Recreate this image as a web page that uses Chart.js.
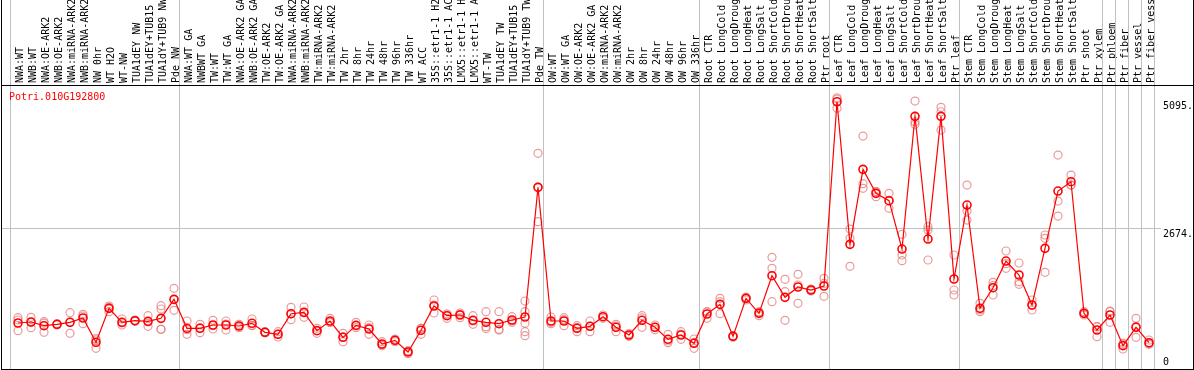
<!DOCTYPE html>
<html>
<head>
<meta charset="utf-8">
<script src="https://cdn.jsdelivr.net/npm/chart.js@4.4.1/dist/chart.umd.min.js"></script>
<style>
html, body { margin: 0; padding: 0; background: #fff; }
#box { width: 1194px; height: 370px; }
</style>
</head>
<body>
<div id="box"><canvas id="c" width="1194" height="370"></canvas></div>
<script>
//基因名
const geneName = 'Potri.010G192800'

//样本名（顶部竖排）
const sampleLabels = [
    'NWA:WT', 'NWB:WT', 'NWA:OE-ARK2', 'NWB:OE-ARK2', 'NWA:miRNA-ARK2', 'NWB:miRNA-ARK2',
    'NW 0hr', 'WT H2O', 'WT-NW', 'TUA1dEY NW', 'TUA1dEY+TUB15 NW', 'TUA1dY+TUB9 NW', 'Pde NW',
    'NWA:WT GA', 'NWBWT GA', 'TW:WT', 'TW:WT GA', 'NWA:OE-ARK2 GA', 'NWB:OE-ARK2 GA',
    'TW:OE-ARK2', 'TW:OE-ARK2 GA', 'NWA:miRNA-ARK2 GA', 'NWB:miRNA-ARK2 GA', 'TW:miRNA-ARK2',
    'TW:miRNA-ARK2 GA', 'TW 2hr', 'TW 8hr', 'TW 24hr', 'TW 48hr', 'TW 96hr', 'TW 336hr',
    'WT ACC', '35S::etr1-1 H2O', '35S::etr1-1 ACC', 'LMX5::etr1-1 H2O', 'LMX5::etr1-1 ACC',
    'WT-TW', 'TUA1dEY TW', 'TUA1dEY+TUB15 TW', 'TUA1dY+TUB9 TW', 'Pde TW',
    'OW:WT', 'OW:WT GA', 'OW:OE-ARK2', 'OW:OE-ARK2 GA', 'OW:miRNA-ARK2', 'OW:miRNA-ARK2 GA',
    'OW 2hr', 'OW 8hr', 'OW 24hr', 'OW 48hr', 'OW 96hr', 'OW 336hr',
    'Root CTR', 'Root LongCold', 'Root LongDrought', 'Root LongHeat', 'Root LongSalt',
    'Root ShortCold', 'Root ShortDrought', 'Root ShortHeat', 'Root ShortSalt', 'Ptr root',
    'Leaf CTR', 'Leaf LongCold', 'Leaf LongDrought', 'Leaf LongHeat', 'Leaf LongSalt',
    'Leaf ShortCold', 'Leaf ShortDrought', 'Leaf ShortHeat', 'Leaf ShortSalt', 'Ptr leaf',
    'Stem CTR', 'Stem LongCold', 'Stem LongDrought', 'Stem LongHeat', 'Stem LongSalt',
    'Stem ShortCold', 'Stem ShortDrought', 'Stem ShortHeat', 'Stem ShortSalt', 'Ptr shoot',
    'Ptr xylem', 'Ptr phloem', 'Ptr fiber', 'Ptr vessel', 'Ptr fiber vessel'
]

//平均值（红线）
const means = [
    874, 893, 823, 849, 887, 969, 507, 1153, 887, 918, 906, 963, 1324,
    773, 773, 836, 836, 817, 868, 697, 659, 1051, 1077, 728, 912, 602, 830, 760, 475, 545, 323,
    735, 1197, 1013, 1026, 925, 887, 861, 931, 988, 3452,
    912, 912, 773, 811, 994, 792, 646, 925, 792, 564, 646, 488,
    1045, 1229, 621, 1343, 1058, 1773, 1362, 1558, 1501, 1577,
    5079, 2369, 3794, 3338, 3198, 2280, 4801, 2470, 4801, 1710,
    3116, 1153, 1545, 2052, 1786, 1216, 2293, 3382, 3559, 1058,
    741, 1026, 443, 792, 500
]

//重复样本（浅红圈）
const reps = [
    [975, 931, 728], [982, 887, 785], [899, 873, 697], [860, 849, 838], [1070, 887, 678],
    [1039, 1007, 861], [551, 576, 393], [1197, 1172, 1089], [950, 874, 836], [930, 918, 906],
    [1013, 894, 811], [1203, 1140, 754, 755], [1533, 1324, 1115],
    [912, 748, 659], [849, 780, 690], [925, 823, 760], [912, 855, 741], [849, 817, 785],
    [950, 830, 824], [709, 697, 685], [709, 659, 608], [1172, 1045, 937], [1178, 1071, 982],
    [773, 733, 678], [963, 887, 886], [678, 609, 519], [887, 818, 785], [836, 785, 659],
    [519, 463, 443], [570, 545, 520], [349, 329, 291], [773, 773, 659], [1311, 1216, 1064],
    [1050, 1026, 963], [1064, 1039, 975], [1013, 913, 849], [1089, 804, 768], [1089, 754, 740],
    [994, 912, 887], [1292, 1089, 868, 709, 633], [4098, 3459, 2799],
    [988, 887, 861], [975, 937, 823], [823, 787, 709], [912, 811, 709], [1026, 994, 963],
    [849, 817, 709], [671, 646, 621], [1013, 970, 792], [836, 792, 747], [659, 532, 500],
    [709, 665, 564], [570, 500, 393],
    [1089, 1083, 963], [1343, 1279, 1051], [633, 628, 602], [1368, 1350, 1311], [1089, 1072, 1013],
    [2122, 1913, 1279], [1704, 1469, 925], [1799, 1596, 1248], [1520, 1501, 1482], [1723, 1627, 1381],
    [5155, 5130, 4953], [2660, 2483, 1951], [4427, 3521, 3433], [3369, 3274, 3371], [3338, 3203, 3053],
    [2559, 2166, 2058], [5092, 4699, 4650], [2704, 2641, 2071], [4972, 4889, 4541], [2166, 1501, 1406],
    [3496, 3002, 2831], [1248, 1121, 1089], [1647, 1583, 1406], [2242, 2001, 1913], [2014, 1659, 1609],
    [1311, 1216, 1121], [2546, 2483, 1837], [4066, 3192, 2907], [3686, 3496, 3495], [1089, 1058, 1026],
    [804, 804, 614], [1102, 1089, 887], [488, 462, 380], [963, 811, 602], [551, 481, 469]
]

//分组分隔线（在这些样本之后）
const groupEnds = [-1, 12, 40, 52, 62, 72, 83, 84, 85, 86, 87]
//右侧刻度
const yTicks = [5095, 2674, 0]
const yMax = 5397

const monoFont = '10px "DejaVu Sans Mono", monospace'

//背景：分隔线、中线
const backLines = {
    id: 'backLines',
    beforeDatasetsDraw(chart) {
        const ctx = chart.ctx
        const x = chart.scales.x
        const y = chart.scales.y
        ctx.save()
        ctx.fillStyle = '#c0c0c0'
        for (let g of groupEnds) {
            const px = Math.round(x.getPixelForValue(g + 0.5)) - 2
            ctx.fillRect(px, 0, 1, 369)
        }
        const my = Math.round(y.getPixelForValue(yTicks[1]))
        ctx.fillRect(1, my, 1160, 1)
        ctx.restore()
    }
}

//边框和文字
const frameText = {
    id: 'frameText',
    afterDraw(chart) {
        const ctx = chart.ctx
        const y = chart.scales.y
        ctx.save()
        ctx.fillStyle = '#000'
        ctx.fillRect(1, 0, 1, 370)
        ctx.fillRect(1193, 0, 1, 370)
        ctx.fillRect(1, 85, 1193, 1)
        ctx.fillRect(1, 369, 1193, 1)

        //右侧数值
        ctx.font = monoFont
        for (let t of yTicks) {
            const py = y.getPixelForValue(t)
            if (t === 0) {
                ctx.textBaseline = 'bottom'
                ctx.fillText('0', 1163, 367)
            } else {
                ctx.textBaseline = 'top'
                ctx.fillText(t + '.', 1163, py + 1)
            }
        }
        ctx.fillStyle = '#ff0000'
        ctx.textBaseline = 'top'
        ctx.fillText(geneName, 9, 92)
        ctx.restore()
    }
}

const meanPts = means.map((v, i) => ({ x: i, y: v }))
const repPts = []
reps.forEach((r, i) => r.forEach(v => repPts.push({ x: i, y: v })))

new Chart(document.getElementById('c'), {
    type: 'scatter',
    data: {
        datasets: [
            {
                data: meanPts,
                showLine: true,
                borderColor: '#ff0000',
                borderWidth: 1.2,
                pointRadius: 4,
                pointBorderWidth: 1.6,
                pointBorderColor: '#ff0000',
                pointBackgroundColor: 'rgba(0,0,0,0)',
                order: 1
            },
            {
                data: repPts,
                showLine: false,
                pointRadius: 4,
                pointBorderWidth: 1.2,
                pointBorderColor: 'rgba(228, 120, 120, 0.75)',
                pointBackgroundColor: 'rgba(0,0,0,0)',
                order: 2
            }
        ]
    },
    options: {
        responsive: false,
        animation: false,
        layout: { autoPadding: false, padding: { left: 11.5, right: 38.5, top: 0, bottom: 1 } },
        plugins: { legend: { display: false }, tooltip: { enabled: false } },
        scales: {
            x: {
                type: 'linear',
                position: 'top',
                min: -0.5,
                max: 87.5,
                afterBuildTicks: ax => { ax.ticks = sampleLabels.map((s, i) => ({ value: i })) },
                afterFit: ax => { ax.height = 85 },
                grid: { display: false, drawTicks: false },
                border: { display: false },
                ticks: {
                    autoSkip: false,
                    minRotation: 90,
                    maxRotation: 90,
                    padding: 2,
                    labelOffset: 14,
                    color: '#000',
                    font: { family: '"DejaVu Sans Mono", monospace', size: 10 },
                    callback: (v, i) => sampleLabels[i]
                }
            },
            y: {
                display: false,
                min: 0,
                max: yMax
            }
        }
    },
    plugins: [backLines, frameText]
})
</script>
</body>
</html>
